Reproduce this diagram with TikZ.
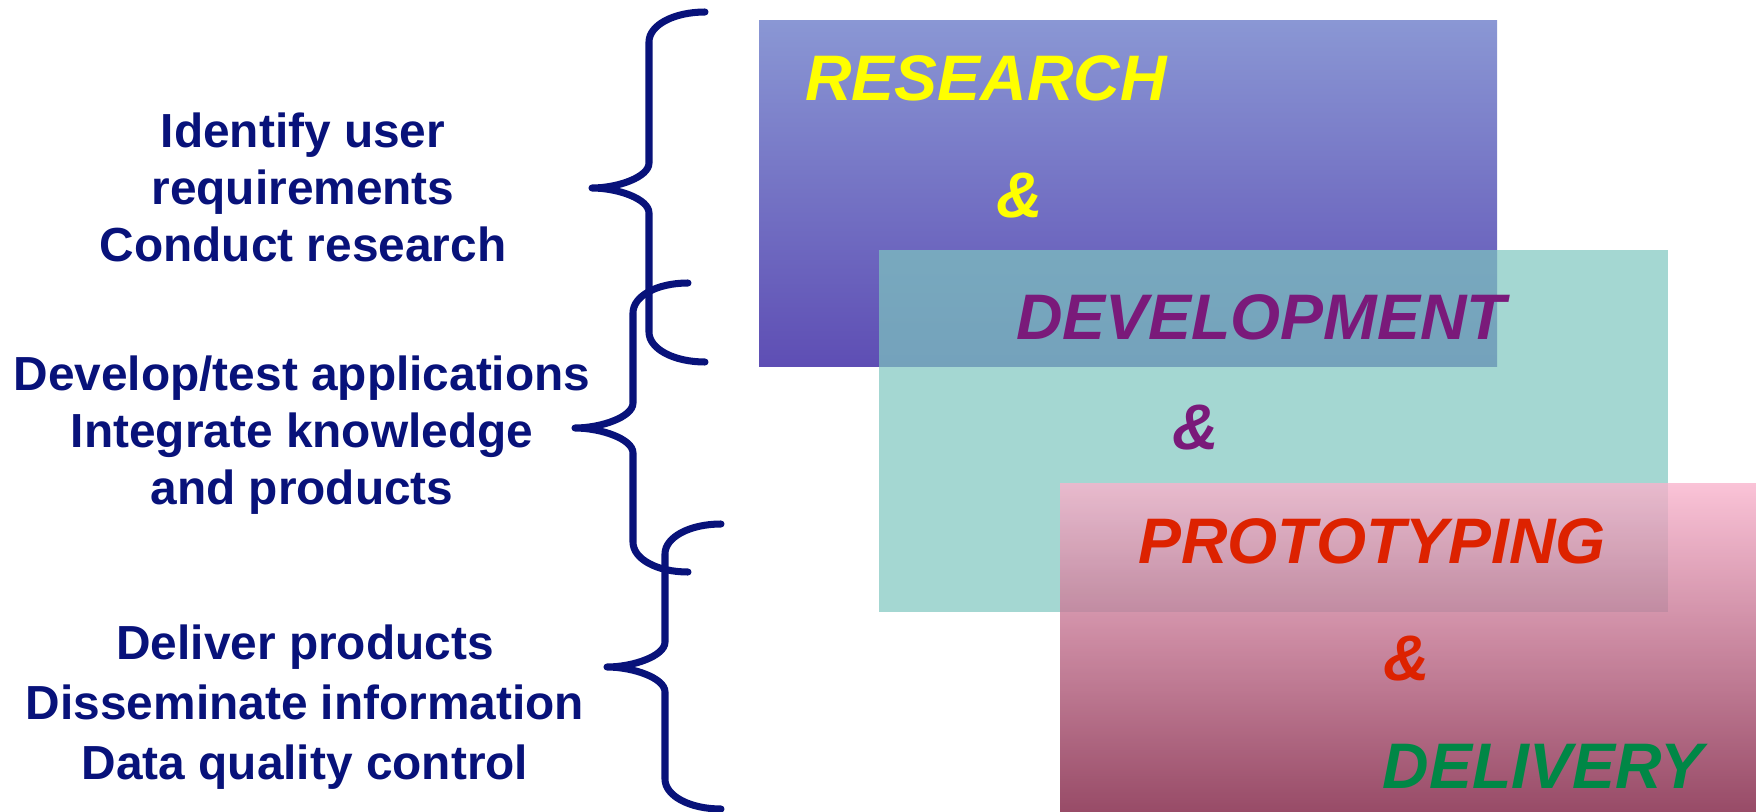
\documentclass[tikz,border=0pt]{standalone}
\usepackage{fontspec}
\setmainfont{Liberation Sans}
\usepackage{tikz}
\usetikzlibrary{calc}
\definecolor{navy}{RGB}{8,18,122}
\definecolor{resA}{RGB}{138,151,212}
\definecolor{resB}{RGB}{120,118,200}
\definecolor{resC}{RGB}{94,78,180}
\definecolor{devfill}{RGB}{126,198,191}
\definecolor{proA}{RGB}{249,180,205}
\definecolor{proB}{RGB}{205,118,149}
\definecolor{proC}{RGB}{126,30,65}
\definecolor{ttyellow}{RGB}{255,255,0}
\definecolor{ttpurple}{RGB}{122,26,122}
\definecolor{ttred}{RGB}{221,34,0}
\definecolor{ttgreen}{RGB}{0,135,70}
\newcommand{\lw}{2pt}
\tikzset{
  brace/.style={draw=navy,line width=\lw,line cap=round,line join=round},
  task/.style={text=navy,font=\fontsize{13.6}{16.2}\selectfont\bfseries,align=center,inner sep=0pt},
  stage/.style={font=\fontsize{18.3}{22}\selectfont\bfseries\itshape,inner sep=0pt}
}
\begin{document}
\begin{tikzpicture}[x=0.01cm,y=-0.01cm]
                    \useasboundingbox (0,0) rectangle (1756,812);
                    % stage boxes
                    \shade[top color=resA,middle color=resB,bottom color=resC] (759,20) rectangle (1497,366);
                    \fill[devfill,fill opacity=0.7] (879,250) rectangle (1668,612);
                    \shade[top color=proA,middle color=proB,bottom color=proC,fill opacity=0.8] (1060,483) rectangle (1756,812);
                    % braces
                    \foreach \xe/\xv/\xp/\yt/\yp/\yb in {705/649/592/12/188/362,688/633/575/283/428/572,721/665/607/524/667/809}{
                    \draw[brace] (\xe,\yt) .. controls ({\xe-31},\yt) and (\xv,{\yt+13}) .. (\xv,{\yt+30}) -- (\xv,{\yp-25})
                                 .. controls (\xv,{\yp-11}) and ({\xp+26},\yp) .. (\xp,\yp)
                                 .. controls ({\xp+26},\yp) and (\xv,{\yp+11}) .. (\xv,{\yp+25}) -- (\xv,{\yb-30})
                                 .. controls (\xv,{\yb-13}) and ({\xe-31},\yb) .. (\xe,\yb);
                    }
                    % tasks
                    \node[task] (research tasks) at (303,187) {Identify user\\requirements\\Conduct research};
                    \node[task] (develop tasks) at (302,435) {Develop/test applications\\Integrate knowledge\\and products};
                    \node[task,font=\fontsize{13.6}{17}\selectfont\bfseries] (deliver tasks) at (305,707) {Deliver products\\Disseminate information\\Data quality control};
                    % stages
                    \node[stage,text=ttyellow] (research) at (986,78) {RESEARCH};
                    \node[stage,text=ttyellow] (amp1) at (1020,196) {\&};
                    \node[stage,text=ttpurple] (development) at (1261,317) {DEVELOPMENT};
                    \node[stage,text=ttpurple] (amp2) at (1196,428) {\&};
                    \node[stage,text=ttred] (prototyping) at (1372,541) {PROTOTYPING};
                    \node[stage,text=ttred] (amp3) at (1407,659) {\&};
                    \node[stage,text=ttgreen] (delivery) at (1543,766) {DELIVERY};
                    \end{tikzpicture}
\end{document}
